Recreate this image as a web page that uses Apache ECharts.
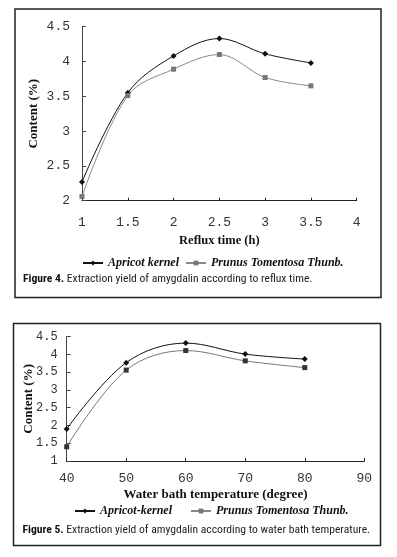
<!DOCTYPE html>
<html><head><meta charset="utf-8">
<script src="https://cdn.jsdelivr.net/npm/echarts@6/dist/echarts.min.js"></script>
<style>html,body{margin:0;padding:0;background:#fff}#c{width:397px;height:557px}</style>
</head><body><div id="c"></div>
<script>
// Figure 4 data: reflux time (h)
const refluxTime = [1, 1.5, 2, 2.5, 3, 3.5];
const apricotReflux = [2.27, 3.55, 4.08, 4.33, 4.11, 3.98];
const prunusReflux = [2.06, 3.51, 3.89, 4.10, 3.77, 3.65];
// Figure 5 data: water bath temperature (degree)
const bathTemp = [40, 50, 60, 70, 80];
const apricotBath = [1.90, 3.77, 4.32, 4.01, 3.87];
const prunusBath = [1.40, 3.56, 4.11, 3.82, 3.63];

const seriesNames4 = ['Apricot kernel', 'Prunus Tomentosa Thunb.'];
const seriesNames5 = ['Apricot-kernel', 'Prunus Tomentosa Thunb.'];
const caption4 = ['Figure 4.', ' Extraction yield of amygdalin according to reflux time.'];
const caption5 = ['Figure 5.', ' Extraction yield of amygdalin according to water bath temperature.'];

const pairs = (xs, ys) => xs.map((x, i) => [x, ys[i]]);
const monoFont = "'Liberation Mono', 'DejaVu Sans Mono', monospace";
const serif = "'Liberation Serif', 'DejaVu Serif', serif";
const narrow = "'Liberation Sans Narrow', 'Roboto Condensed', 'Liberation Sans', sans-serif";

function xAx(gi, min, max, interval, name, nameGap, nameSize, labelMargin, labelSize) {
  return {
    type: 'value', gridIndex: gi, min, max, interval,
    name, nameLocation: 'middle', nameGap, nameMoveOverlap: false,
    nameTextStyle: { fontFamily: serif, fontWeight: 'bold', fontSize: nameSize, color: '#111' },
    axisLine: { show: true, lineStyle: { color: '#222', width: 1 } },
    axisTick: { show: true, inside: true, length: 3, lineStyle: { color: '#222' } },
    splitLine: { show: false },
    axisLabel: { fontFamily: monoFont, fontSize: labelSize, color: '#333', margin: labelMargin }
  };
}
function yAx(gi, min, max, interval, nameGap, labelMargin, labelSize) {
  return {
    type: 'value', gridIndex: gi, min, max, interval,
    name: 'Content (%)', nameLocation: 'middle', nameGap, nameRotate: 90, nameMoveOverlap: false,
    nameTextStyle: { fontFamily: serif, fontWeight: 'bold', fontSize: 13, color: '#111' },
    axisLine: { show: true, lineStyle: { color: '#444', width: 1 } },
    axisTick: { show: true, inside: true, length: 4, lineStyle: { color: '#444' } },
    splitLine: { show: false },
    axisLabel: { fontFamily: monoFont, fontSize: labelSize, color: '#333', margin: labelMargin }
  };
}
function lineSeries(name, xi, yi, data, color, lineColor, symbol, size) {
  return {
    type: 'line', name, xAxisIndex: xi, yAxisIndex: yi, data,
    smooth: 0.35, symbol, symbolSize: size,
    itemStyle: { color },
    lineStyle: { color: lineColor, width: 1 },
    emphasis: { disabled: true }, animation: false
  };
}
function legend(top, left, names, gap) {
  return {
    top, left, data: names, itemGap: gap, itemWidth: 20, itemHeight: 6, padding: 0,
    textStyle: { fontFamily: serif, fontStyle: 'italic', fontWeight: 'bold', fontSize: 12, color: '#111' }
  };
}
const capRich = {
  b: { fontFamily: narrow, fontWeight: 'bold', fontSize: 11.6, fill: '#111' },
  n: { fontFamily: narrow, fontSize: 11.6, fill: '#222' }
};

const chart = echarts.init(document.getElementById('c'), null, { renderer: 'canvas' });
chart.setOption({
  animation: false,
  grid: [
    { left: 82, top: 26.7, right: 40.3, bottom: 356.3 },
    { left: 66.7, top: 336.7, right: 32.7, bottom: 96 }
  ],
  xAxis: [
    xAx(0, 1, 4, 0.5, 'Reflux time (h)', 34, 12.5, 15, 13),
    xAx(1, 40, 90, 10, 'Water bath temperature (degree)', 27, 13, 11, 13)
  ],
  yAxis: [
    yAx(0, 2, 4.5, 0.5, 42, 12, 13),
    yAx(1, 1, 4.5, 0.5, 32, 9, 12)
  ],
  legend: [
    legend(257, 82, seriesNames4, 6),
    legend(505, 74, seriesNames5, 18)
  ],
  series: [
    lineSeries(seriesNames4[0], 0, 0, pairs(refluxTime, apricotReflux), '#111', '#111', 'diamond', 6),
    lineSeries(seriesNames4[1], 0, 0, pairs(refluxTime, prunusReflux), '#777', '#888', 'rect', 5),
    lineSeries(seriesNames5[0], 1, 1, pairs(bathTemp, apricotBath), '#111', '#111', 'diamond', 6),
    lineSeries(seriesNames5[1], 1, 1, pairs(bathTemp, prunusBath), '#333', '#777', 'rect', 5)
  ],
  graphic: [
    { type: 'rect', shape: { x: 15, y: 9, width: 366, height: 288.5 }, style: { fill: 'none', stroke: '#222', lineWidth: 1.5 } },
    { type: 'rect', shape: { x: 13.5, y: 323.5, width: 367, height: 222 }, style: { fill: 'none', stroke: '#222', lineWidth: 1.5 } },
    { type: 'text', left: 23, top: 273, style: { text: '{b|' + caption4[0] + '}{n|' + caption4[1] + '}', rich: capRich } },
    { type: 'text', left: 22.5, top: 524, style: { text: '{b|' + caption5[0] + '}{n|' + caption5[1] + '}', rich: capRich } }
  ]
});
</script></body></html>
